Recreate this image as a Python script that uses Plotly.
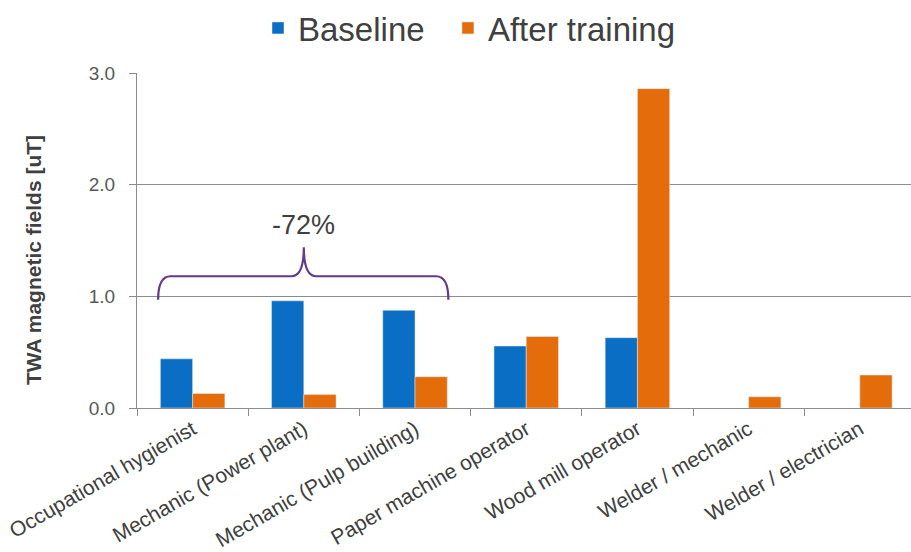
import plotly.graph_objects as go

categories = ["Occupational hygienist", "Mechanic (Power plant)", "Mechanic (Pulp building)",
              "Paper machine operator", "Wood mill operator", "Welder / mechanic", "Welder / electrician"]
baseline = [0.44, 0.96, 0.875, 0.555, 0.63, None, None]
after_training = [0.13, 0.12, 0.28, 0.64, 2.86, 0.10, 0.295]
y_ticks = [0.0, 1.0, 2.0, 3.0]

brace_label = "-72%"
brace_x = [-0.31, 1.0, 2.30]     # left end, centre, right end (category index units)
brace_y = [0.97, 1.18, 1.44]     # ends, flat, peak

FONT = "Liberation Sans, Arial, sans-serif"
BLUE = "#0A6EC4"
ORANGE = "#E46C0A"
PURPLE = "#633A86"

W, H = 911, 552
L, R, T, B = 137, 0, 73, 144
pw, ph = W - L - R, H - T - B

fig = go.Figure()
fig.add_trace(go.Bar(name="Baseline\u00a0\u00a0", x=categories, y=baseline, marker_color=BLUE))
fig.add_trace(go.Bar(name="After training", x=categories, y=after_training, marker_color=ORANGE))
# invisible overlay trace so the numeric x2 axis exists
fig.add_trace(go.Scatter(x=[None], y=[None], xaxis="x2", showlegend=False, hoverinfo="skip"))

xl, xc, xr = brace_x
ye, yf, yp = brace_y
dx = 0.11
path = (f"M {xl},{ye} Q {xl},{yf} {xl+dx},{yf} L {xc-dx},{yf} Q {xc},{yf} {xc},{yp} "
        f"Q {xc},{yf} {xc+dx},{yf} L {xr-dx},{yf} Q {xr},{yf} {xr},{ye}")
fig.add_shape(type="path", path=path, xref="x2", yref="y",
              line=dict(color=PURPLE, width=2.2))
fig.add_annotation(x=xc, y=1.64, xref="x2", yref="y", text=brace_label, showarrow=False,
                   font=dict(family=FONT, size=27, color="#404040"))

fig.add_annotation(x=(33 - L) / pw, y=(H - B - 260) / ph, xref="paper", yref="paper",
                   text="<b>TWA magnetic fields [uT]</b>", textangle=-90, showarrow=False,
                   xanchor="center", yanchor="middle",
                   font=dict(family=FONT, size=21, color="#404040"))

fig.update_layout(
    width=W, height=H,
    margin=dict(l=L, r=R, t=T, b=B),
    plot_bgcolor="white", paper_bgcolor="white",
    barmode="group", bargap=0.42, bargroupgap=0,
    font=dict(family=FONT, color="#404040"),
    legend=dict(orientation="h", x=(258 - L) / pw, xanchor="left",
                y=(H - B - 28) / ph, yanchor="middle",
                font=dict(family=FONT, size=33, color="#404040"),
                itemwidth=30, traceorder="normal"),
    xaxis=dict(type="category", range=[-0.5, 6.46], tickson="boundaries", ticks="outside",
               ticklen=7, tickcolor="#8c8c8c", showline=True, linecolor="#8c8c8c", linewidth=1,
               tickangle=-30, tickfont=dict(family=FONT, size=21, color="#404040"),
               showgrid=False),
    xaxis2=dict(overlaying="x", range=[-0.5, 6.46], visible=False),
    yaxis=dict(range=[0, 3], tickvals=y_ticks, tickformat=".1f", ticks="outside", ticklen=7,
               tickcolor="#8c8c8c", showline=True, linecolor="#8c8c8c", linewidth=1,
               showgrid=True, gridcolor="#8c8c8c", gridwidth=1, zeroline=False,
               tickfont=dict(family=FONT, size=19, color="#595959"), ticklabelstandoff=10),
)

fig.write_html("out.html")
